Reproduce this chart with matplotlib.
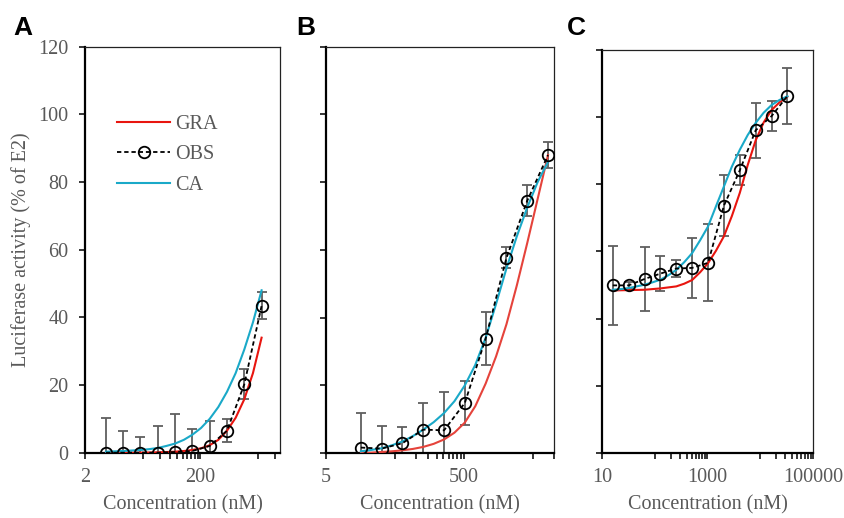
import matplotlib
matplotlib.use('Agg')
import matplotlib.pyplot as plt
from matplotlib.ticker import FixedLocator, FixedFormatter, NullFormatter

# ---------------- data ----------------
labels = ["GRA", "OBS", "CA"]
panel_letters = ["A", "B", "C"]
y_ticks = [0, 20, 40, 60, 80, 100, 120]

# Panel A
A_obs_x = [4.6, 9.2, 18.3, 36.6, 73.2, 146, 293, 586, 1172, 2344]
A_obs_y = [0, 0, 0, 0, 0.2, 0.5, 2.0, 6.5, 20.2, 43.4]
A_obs_err = [10.4, 6.5, 4.7, 7.9, 11.1, 6.4, 7.5, 3.4, 4.4, 4.0]
A_fit_x = [4.6, 6.5, 9.2, 13, 18.3, 25.9, 36.6, 51.8, 73.2, 104, 146, 207,
           293, 414, 586, 828, 1172, 1657, 2344]
A_gra = [0, 0, 0, 0, 0, 0.05, 0.1, 0.2, 0.3, 0.5, 0.8, 1.3, 2.2, 3.8, 6.5,
         10.3, 15.8, 23.5, 34]
A_ca = [0.3, 0.4, 0.5, 0.65, 0.8, 1.05, 1.4, 2.0, 2.7, 3.8, 5.3, 7.3, 10, 13.5,
        18, 23.5, 30.5, 38.5, 48]
A_xlim = [2, 5000]
A_major = [2, 200]
A_major_labels = ["2", "200"]
A_minor = [20, 40, 60, 80, 100, 120, 140, 160, 180, 2000, 4000]

# Panel B
B_obs_x = [16, 32, 64, 128, 256, 512, 1024, 2048, 4096, 8192]
B_obs_y = [1.6, 1.3, 2.9, 6.9, 6.7, 14.8, 33.8, 57.6, 74.5, 88.0]
B_obs_err = [10.3, 6.6, 4.9, 7.9, 11.4, 6.4, 7.8, 3.1, 4.6, 3.8]
B_fit_x = [16, 22.6, 32, 45.3, 64, 90.5, 128, 181, 256, 362, 512, 724, 1024,
           1448, 2048, 2896, 4096, 5793, 8192]
B_gra = [0, 0.1, 0.3, 0.5, 0.8, 1.2, 1.8, 2.7, 4.0, 6.0, 9.0, 13.8, 20.5,
         28.5, 38, 49.5, 62, 75, 88]
B_ca = [0.5, 0.9, 1.4, 2.3, 3.4, 5.0, 6.9, 9.1, 11.8, 15.3, 20.0, 26.0, 34.0,
        44, 54.5, 64, 72.5, 80, 86]
B_xlim = [5, 10000]
B_major = [5, 500]
B_major_labels = ["5", "500"]
B_minor = [50, 100, 150, 200, 250, 300, 350, 400, 450, 5000, 10000]

# Panel C
C_obs_x = [16, 32, 64, 128, 256, 512, 1024, 2048, 4096, 8192, 16384, 32768]
C_obs_y = [49.9, 49.9, 51.8, 53.4, 54.9, 55.1, 56.6, 73.6, 84.1, 96.0, 100.2, 106.2]
C_obs_err = [11.7, 1.0, 9.6, 5.2, 2.6, 8.8, 11.4, 9.1, 4.5, 8.1, 4.4, 8.2]
C_fit_x = [16, 22.6, 32, 45.3, 64, 90.5, 128, 181, 256, 362, 512, 724, 1024,
           1448, 2048, 2896, 4096, 5793, 8192, 11585, 16384, 23170, 32768]
C_gra = [48.4, 48.45, 48.5, 48.55, 48.6, 48.8, 49.0, 49.3, 49.6, 50.4, 51.5,
         53.8, 56.5, 60.2, 64.5, 70.5, 77.4, 85.7, 93, 98.3, 102, 104.3, 106]
C_ca = [48.6, 48.8, 49.1, 49.6, 50.1, 50.8, 51.6, 52.9, 54.5, 56.8, 59.5, 63.3,
        67.4, 73.4, 79.3, 85.2, 90.2, 94.6, 98.2, 101.2, 103.5, 105, 106.1]
C_xlim = [10, 100000]
C_major = [10, 1000, 100000]
C_major_labels = ["10", "1000", "100000"]
C_minor = [100, 200, 300, 400, 500, 600, 700, 800, 900,
           10000, 20000, 30000, 40000, 50000, 60000, 70000, 80000, 90000]

# ---------------- style ----------------
W, H = 845, 518
SERIF = "Liberation Serif"
GRAY = "#595959"
RED = "#e8150f"
RED_B = "#e5433b"
CYAN = "#1aa9c8"
FS = 14.5

fig = plt.figure(figsize=(W / 100, H / 100), dpi=100)


def axes_px(l, r, t, b):
    return fig.add_axes([l / W, 1 - b / H, (r - l) / W, (b - t) / H])


panels = [
    dict(box=(85.2, 280.5, 46.7, 452.7), fx=A_fit_x, gra=A_gra, ca=A_ca,
         ox=A_obs_x, oy=A_obs_y, oe=A_obs_err, xlim=A_xlim, major=A_major,
         mlab=A_major_labels, minor=A_minor, red=RED, letter_x=23),
    dict(box=(326, 554, 46.7, 453), fx=B_fit_x, gra=B_gra, ca=B_ca,
         ox=B_obs_x, oy=B_obs_y, oe=B_obs_err, xlim=B_xlim, major=B_major,
         mlab=B_major_labels, minor=B_minor, red=RED_B, letter_x=306),
    dict(box=(602, 813, 49.5, 453.3), fx=C_fit_x, gra=C_gra, ca=C_ca,
         ox=C_obs_x, oy=C_obs_y, oe=C_obs_err, xlim=C_xlim, major=C_major,
         mlab=C_major_labels, minor=C_minor, red=RED, letter_x=576),
]

axes = []
for i, p in enumerate(panels):
    l, r, t, b = p["box"]
    ax = axes_px(l, r, t, b)
    axes.append(ax)
    ax.set_xscale("log")
    ax.set_xlim(*p["xlim"])
    ax.set_ylim(0, 120)

    ax.errorbar(p["ox"], p["oy"], yerr=p["oe"], fmt="none", ecolor="#5f5f5f",
                elinewidth=1.3, capsize=3.6, capthick=1.3, zorder=2)
    h_gra, = ax.plot(p["fx"], p["gra"], color=p["red"], lw=1.5, zorder=3)
    h_obs, = ax.plot(p["ox"], p["oy"], color="black", lw=1.3,
                     dashes=(2.4, 1.6), marker="o", ms=8.3, mfc="none",
                     mec="black", mew=1.3, zorder=4)
    h_ca, = ax.plot(p["fx"], p["ca"], color=CYAN, lw=1.5, zorder=3)

    # axes styling
    for s in ("left", "bottom"):
        ax.spines[s].set_linewidth(1.6)
        ax.spines[s].set_color("black")
    for s in ("top", "right"):
        ax.spines[s].set_linewidth(0.9)
        ax.spines[s].set_color("#222222")

    ax.xaxis.set_major_locator(FixedLocator(p["major"]))
    ax.xaxis.set_major_formatter(FixedFormatter(p["mlab"]))
    ax.xaxis.set_minor_locator(FixedLocator(p["minor"]))
    ax.xaxis.set_minor_formatter(NullFormatter())
    ax.yaxis.set_major_locator(FixedLocator(y_ticks))
    ax.yaxis.set_minor_locator(FixedLocator([]))

    ax.tick_params(axis="both", which="both", direction="out", length=4.2,
                   width=1.1, color="black", top=False, right=False)
    ax.tick_params(axis="x", which="major", pad=6.5, labelsize=FS,
                   labelcolor=GRAY)
    ax.tick_params(axis="y", which="major", pad=8, labelsize=FS,
                   labelcolor=GRAY)
    for lab in ax.get_xticklabels() + ax.get_yticklabels():
        lab.set_fontfamily(SERIF)
    if i > 0:
        ax.set_yticklabels([])

    # x label
    fig.text((l + r) / 2 / W, 1 - 505 / H, "Concentration (nM)", ha="center",
             va="center", fontsize=FS, color=GRAY, family=SERIF)
    # panel letter
    fig.text(p["letter_x"] / W, 1 - 28 / H, panel_letters[i], ha="center",
             va="center", fontsize=19, fontweight="bold", color="black",
             family="Liberation Sans")

    if i == 0:
        leg = ax.legend([h_gra, h_obs, h_ca], labels, loc="upper left",
                        bbox_to_anchor=(117 / W, 1 - 115 / H),
                        bbox_transform=fig.transFigure, frameon=False,
                        borderpad=0, borderaxespad=0, handlelength=2.65,
                        handletextpad=0.25, labelspacing=0.56,
                        prop=dict(family=SERIF, size=FS))
        for txt in leg.get_texts():
            txt.set_color(GRAY)

fig.text(21 / W, 1 - 250 / H, "Luciferase activity (% of E2)", rotation=90,
         ha="center", va="center", fontsize=FS, color=GRAY, family=SERIF)

fig.savefig("out.png", dpi=100)
